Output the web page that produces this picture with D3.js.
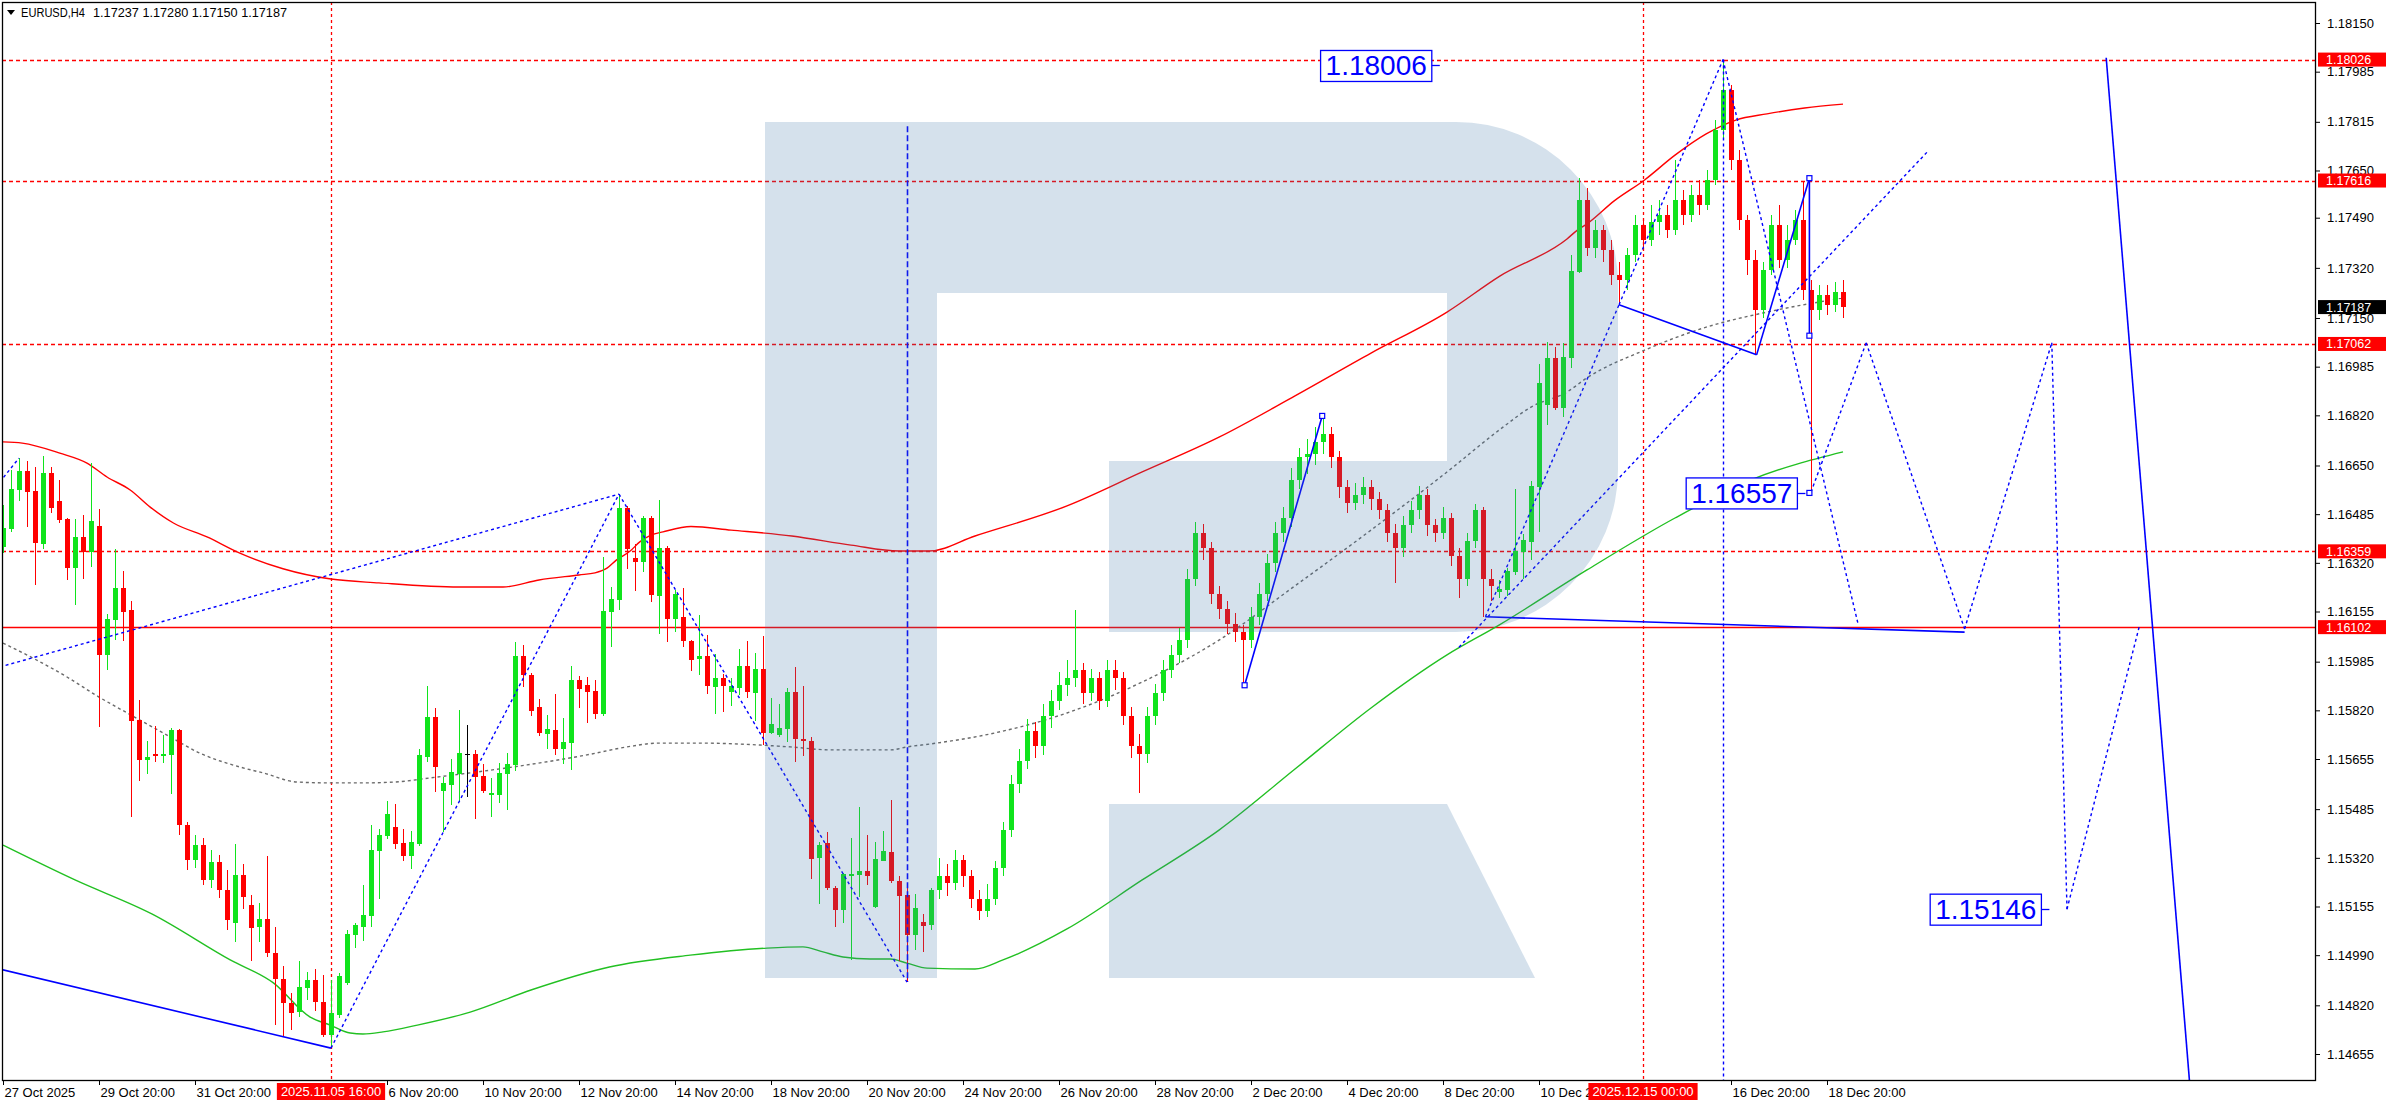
<!DOCTYPE html>
<html><head><meta charset="utf-8">
<script src="https://cdn.jsdelivr.net/npm/d3@7/dist/d3.min.js"></script>
<style>html,body{margin:0;padding:0;background:#fff;overflow:hidden}svg{display:block}</style>
</head><body>
<svg id="chart" width="2388" height="1100"></svg>
<script>
// ---------------- DATA (EURUSD H4, bar 0 = 27 Oct 2025 20:00) ----------------
const barOpen=[
1.16374,1.16435,1.16567,1.16631,1.16564,1.16384,1.16625,1.16530,1.16469,1.16302,
1.16408,1.16357,1.16445,1.16008,1.16126,1.16235,1.16160,1.15787,1.15652,1.15672,
1.15665,1.15669,1.15753,1.15431,1.15313,1.15363,1.15245,1.15306,1.15211,1.15099,
1.15262,1.15160,1.15085,1.15113,1.14997,1.14909,1.14828,1.14797,1.14879,1.14906,
1.14831,1.14719,1.14787,1.14896,1.15058,1.15085,1.15123,1.15343,1.15394,1.15424,
1.15370,1.15326,1.15367,1.15662,1.15797,1.15547,1.15567,1.15604,1.15672,1.15672,
1.15597,1.15533,1.15533,1.15604,1.15635,1.16004,1.15940,1.15831,1.15740,1.15753,
1.15689,1.15709,1.15923,1.15906,1.15886,1.15808,1.16153,1.16194,1.16506,1.16336,
1.16323,1.16472,1.16208,1.16370,1.16130,1.16136,1.16055,1.15994,1.16004,1.15899,
1.15930,1.15882,1.15896,1.15970,1.15879,1.15960,1.15743,1.15736,1.15757,1.15882,
1.15723,1.15716,1.15319,1.15370,1.15218,1.15143,1.15262,1.15262,1.15275,1.15153,
1.15309,1.15340,1.15241,1.15194,1.15058,1.15102,1.15092,1.15211,1.15259,1.15233,
1.15311,1.15259,1.15182,1.15140,1.15182,1.15285,1.15414,1.15569,1.15647,1.15750,
1.15698,1.15801,1.15853,1.15905,1.15930,1.15956,1.15879,1.15930,1.15853,1.15956,
1.15930,1.15801,1.15698,1.15672,1.15801,1.15879,1.15956,1.16008,1.16060,1.16266,
1.16421,1.16369,1.16214,1.16163,1.16111,1.16085,1.16060,1.16137,1.16214,1.16318,
1.16421,1.16473,1.16602,1.16679,1.16689,1.16731,1.16757,1.16679,1.16576,1.16524,
1.16550,1.16576,1.16535,1.16498,1.16421,1.16369,1.16447,1.16498,1.16550,1.16447,
1.16421,1.16473,1.16344,1.16266,1.16395,1.16498,1.16266,1.16221,1.16228,1.16289,
1.16357,1.16391,1.16577,1.16855,1.17014,1.16845,1.17014,1.17306,1.17550,1.17387,
1.17448,1.17380,1.17296,1.17279,1.17364,1.17465,1.17414,1.17475,1.17499,1.17448,
1.17550,1.17499,1.17567,1.17533,1.17618,1.17787,1.17923,1.17686,1.17482,1.17347,
1.17177,1.17313,1.17465,1.17347,1.17414,1.17482,1.17245,1.17177,1.17228,1.17194,1.17237];
const barHigh=[
1.16516,1.16635,1.16675,1.16665,1.16645,1.16682,1.16645,1.16601,1.16472,1.16469,
1.16482,1.16658,1.16502,1.16147,1.16367,1.16292,1.16191,1.15855,1.15716,1.15767,
1.15736,1.15760,1.15756,1.15440,1.15397,1.15387,1.15346,1.15330,1.15279,1.15367,
1.15299,1.15194,1.15167,1.15326,1.15085,1.14953,1.14862,1.14970,1.14933,1.14943,
1.14923,1.14906,1.14930,1.15075,1.15099,1.15228,1.15431,1.15418,1.15513,1.15502,
1.15418,1.15411,1.15689,1.15902,1.15828,1.15594,1.15655,1.15821,1.15770,1.15685,
1.15638,1.15591,1.15641,1.15675,1.16052,1.16041,1.15947,1.15858,1.15804,1.15875,
1.15794,1.15970,1.15936,1.15933,1.15923,1.16340,1.16238,1.16553,1.16513,1.16384,
1.16479,1.16479,1.16533,1.16377,1.16228,1.16235,1.16058,1.16143,1.16075,1.16011,
1.15943,1.15930,1.16028,1.16055,1.16014,1.16072,1.15862,1.15841,1.15896,1.15967,
1.15902,1.15730,1.15374,1.15408,1.15224,1.15268,1.15387,1.15492,1.15397,1.15374,
1.15411,1.15516,1.15258,1.15224,1.15197,1.15130,1.15218,1.15320,1.15300,1.15345,
1.15330,1.15280,1.15210,1.15230,1.15310,1.15440,1.15600,1.15690,1.15790,1.15780,
1.15840,1.15890,1.15950,1.15990,1.16160,1.15980,1.15960,1.15950,1.15990,1.15990,
1.15950,1.15830,1.15740,1.15830,1.15910,1.15990,1.16040,1.16100,1.16300,1.16460,
1.16450,1.16390,1.16240,1.16190,1.16150,1.16110,1.16170,1.16250,1.16350,1.16460,
1.16510,1.16640,1.16710,1.16740,1.16780,1.16818,1.16780,1.16700,1.16600,1.16590,
1.16610,1.16600,1.16560,1.16520,1.16450,1.16480,1.16530,1.16580,1.16570,1.16470,
1.16510,1.16490,1.16370,1.16420,1.16520,1.16510,1.16300,1.16262,1.16302,1.16570,
1.16418,1.16597,1.16994,1.17069,1.17052,1.17065,1.17364,1.17625,1.17591,1.17482,
1.17465,1.17414,1.17340,1.17387,1.17499,1.17489,1.17533,1.17550,1.17533,1.17686,
1.17584,1.17601,1.17618,1.17652,1.17821,1.18026,1.17940,1.17720,1.17499,1.17381,
1.17340,1.17499,1.17533,1.17465,1.17516,1.17616,1.17279,1.17262,1.17262,1.17272,1.17280];
const barLow=[
1.16353,1.16425,1.16530,1.16441,1.16245,1.16367,1.16489,1.16455,1.16262,1.16177,
1.16265,1.16306,1.15763,1.15957,1.16058,1.16055,1.15458,1.15580,1.15604,1.15645,
1.15641,1.15536,1.15397,1.15279,1.15285,1.15228,1.15218,1.15184,1.15075,1.15035,
1.15146,1.14970,1.15035,1.14984,1.14753,1.14716,1.14736,1.14780,1.14838,1.14801,
1.14713,1.14675,1.14777,1.14889,1.15014,1.15038,1.15085,1.15180,1.15384,1.15350,
1.15309,1.15282,1.15360,1.15645,1.15543,1.15408,1.15499,1.15509,1.15526,1.15452,
1.15540,1.15458,1.15506,1.15482,1.15614,1.15899,1.15801,1.15733,1.15689,1.15669,
1.15638,1.15618,1.15828,1.15777,1.15791,1.15801,1.16035,1.16160,1.16299,1.16225,
1.16289,1.16187,1.16079,1.16052,1.16086,1.16035,1.15953,1.15940,1.15875,1.15808,
1.15814,1.15835,1.15872,1.15862,1.15784,1.15702,1.15740,1.15730,1.15713,1.15645,
1.15665,1.15248,1.15163,1.15211,1.15085,1.15099,1.14974,1.15187,1.15228,1.15150,
1.15309,1.15235,1.14970,1.14899,1.15007,1.15001,1.15075,1.15180,1.15190,1.15210,
1.15220,1.15150,1.15110,1.15120,1.15160,1.15260,1.15390,1.15540,1.15620,1.15660,
1.15670,1.15760,1.15820,1.15870,1.15900,1.15840,1.15850,1.15820,1.15830,1.15890,
1.15770,1.15660,1.15540,1.15640,1.15770,1.15850,1.15930,1.15980,1.16030,1.16240,
1.16330,1.16180,1.16130,1.16080,1.16050,1.15905,1.16030,1.16110,1.16190,1.16290,
1.16390,1.16440,1.16570,1.16620,1.16650,1.16690,1.16640,1.16540,1.16490,1.16500,
1.16520,1.16500,1.16470,1.16390,1.16250,1.16340,1.16420,1.16470,1.16410,1.16390,
1.16400,1.16310,1.16200,1.16240,1.16370,1.16137,1.16190,1.16200,1.16208,1.16279,
1.16265,1.16330,1.16425,1.16787,1.16838,1.16814,1.16980,1.17303,1.17360,1.17353,
1.17340,1.17262,1.17194,1.17245,1.17340,1.17380,1.17394,1.17431,1.17421,1.17431,
1.17465,1.17475,1.17499,1.17516,1.17601,1.17753,1.17652,1.17448,1.17296,1.17025,
1.17150,1.17296,1.17320,1.17320,1.17397,1.17211,1.16557,1.17143,1.17160,1.17170,1.17150];
const barClose=[
1.16438,1.16570,1.16631,1.16560,1.16387,1.16625,1.16506,1.16465,1.16302,1.16408,
1.16357,1.16462,1.16008,1.16130,1.16235,1.16153,1.15784,1.15652,1.15662,1.15665,
1.15672,1.15753,1.15431,1.15313,1.15363,1.15245,1.15306,1.15211,1.15109,1.15262,
1.15187,1.15082,1.15113,1.14997,1.14909,1.14828,1.14794,1.14882,1.14906,1.14831,
1.14719,1.14794,1.14919,1.15062,1.15092,1.15126,1.15346,1.15397,1.15469,1.15367,
1.15326,1.15374,1.15669,1.15797,1.15628,1.15574,1.15611,1.15675,1.15672,1.15594,
1.15547,1.15540,1.15608,1.15638,1.16004,1.15940,1.15818,1.15743,1.15757,1.15689,
1.15713,1.15923,1.15892,1.15882,1.15808,1.16157,1.16197,1.16506,1.16367,1.16323,
1.16472,1.16211,1.16370,1.16130,1.16214,1.16055,1.15991,1.16004,1.15902,1.15930,
1.15902,1.15902,1.15970,1.15882,1.15960,1.15743,1.15774,1.15760,1.15882,1.15723,
1.15716,1.15316,1.15363,1.15218,1.15143,1.15265,1.15265,1.15275,1.15258,1.15316,
1.15343,1.15241,1.15191,1.15058,1.15150,1.15089,1.15211,1.15259,1.15233,1.15311,
1.15259,1.15182,1.15140,1.15182,1.15285,1.15414,1.15569,1.15647,1.15750,1.15698,
1.15801,1.15853,1.15905,1.15930,1.15956,1.15879,1.15930,1.15853,1.15956,1.15930,
1.15801,1.15698,1.15672,1.15801,1.15879,1.15956,1.16008,1.16060,1.16266,1.16421,
1.16369,1.16214,1.16163,1.16111,1.16085,1.16060,1.16137,1.16214,1.16318,1.16421,
1.16473,1.16602,1.16679,1.16689,1.16731,1.16757,1.16679,1.16576,1.16524,1.16550,
1.16576,1.16535,1.16498,1.16421,1.16369,1.16447,1.16498,1.16550,1.16447,1.16421,
1.16473,1.16344,1.16266,1.16395,1.16498,1.16266,1.16240,1.16231,1.16292,1.16360,
1.16397,1.16580,1.16930,1.17014,1.16845,1.17018,1.17309,1.17550,1.17387,1.17448,
1.17380,1.17296,1.17279,1.17364,1.17465,1.17414,1.17475,1.17499,1.17448,1.17550,
1.17499,1.17567,1.17533,1.17618,1.17787,1.17923,1.17686,1.17482,1.17347,1.17177,
1.17313,1.17465,1.17347,1.17414,1.17482,1.17245,1.17177,1.17228,1.17194,1.17237,1.17187];

const priceTicks=[1.18150,1.17985,1.17815,1.17650,1.17490,1.17320,1.17150,1.16985,1.16820,1.16650,1.16485,
  1.16320,1.16155,1.15985,1.15820,1.15655,1.15485,1.15320,1.15155,1.14990,1.14820,1.14655];
const timeTickIdx=[0,12,24,48,60,72,84,96,108,120,132,144,156,168,180,192,216,228];
const timeTickLabels=['27 Oct 2025','29 Oct 20:00','31 Oct 20:00','6 Nov 20:00','10 Nov 20:00',
  '12 Nov 20:00','14 Nov 20:00','18 Nov 20:00','20 Nov 20:00','24 Nov 20:00','26 Nov 20:00','28 Nov 20:00',
  '2 Dec 20:00','4 Dec 20:00','8 Dec 20:00','10 Dec 20:00','16 Dec 20:00','18 Dec 20:00'];
const markerIdx=[41,205];
const markerLabels=['2025.11.05 16:00','2025.12.15 00:00'];
const dashedLevels=[1.18026,1.17616,1.17062,1.16359];
const solidLevels=[1.16102];
const currentPrice=1.17187;
const headerSymbol='EURUSD,H4';
const headerValues='1.17237 1.17280 1.17150 1.17187';

// moving averages: [bar index, price]
const maRed=[[0,1.16730],[2.4,1.16726],[7.1,1.16692],[10.5,1.16658],[13,1.16611],[15.9,1.16567],[18.4,1.16509],
 [21.3,1.16455],[25.5,1.16408],[29.6,1.16353],[35,1.16300],[41,1.16265],[47,1.16252],[57,1.16238],[62.5,1.16238],
 [67,1.16262],[72,1.16279],[74,1.16286],[75.5,1.16302],[76.7,1.16330],[78.4,1.16360],[79.6,1.16391],[81,1.16414],
 [82.5,1.16425],[86,1.16443],[91,1.16431],[98.6,1.16411],[106,1.16380],[112,1.16360],[115.8,1.16360],[121.5,1.16411],
 [133,1.16513],[142.4,1.16628],[152,1.16746],[161.5,1.16886],[171,1.17031],[180.5,1.17170],[187.1,1.17292],
 [195.5,1.17418],[196.8,1.17448],[198,1.17469],[201.4,1.17547],[205.2,1.17618],[209,1.17702],[212.9,1.17774],
 [216.6,1.17821],[220.5,1.17842],[225.2,1.17862],[230,1.17875]];
const maGreen=[[0,1.15363],[9,1.15245],[18.6,1.15130],[28.4,1.14974],[33.8,1.14896],[38.4,1.14780],[40.9,1.14753],
 [43.4,1.14726],[45,1.14723],[47.5,1.14730],[51.8,1.14753],[58.4,1.14797],[66,1.14872],[75.8,1.14950],[85.9,1.14990],
 [95.5,1.15014],[100,1.15018],[102.5,1.15001],[105,1.14984],[108.4,1.14977],[110.9,1.14977],[113,1.14963],
 [115.5,1.14946],[121.5,1.14943],[125,1.14974],[133,1.15079],[142.4,1.15245],[152,1.15414],[161.5,1.15621],
 [171,1.15828],[180.5,1.16008],[187,1.16109],[198,1.16296],[209,1.16472],[218.5,1.16601],[230,1.16696]];
const maGray=[[0,1.16048],[3.75,1.15997],[8,1.15933],[12,1.15865],[16,1.15804],[20.5,1.15736],[24.6,1.15675],
 [29.6,1.15628],[32.5,1.15608],[36.75,1.15577],[40.9,1.15574],[45,1.15574],[49,1.15577],[53.4,1.15591],
 [58.4,1.15608],[65.5,1.15635],[73,1.15669],[78,1.15696],[82,1.15709],[87,1.15709],[98.4,1.15696],[103.4,1.15686],
 [111,1.15686],[113,1.15696],[115.9,1.15706],[123.4,1.15740],[133,1.15811],[142.4,1.15916],[152,1.16058],
 [161.5,1.16242],[171,1.16431],[180.5,1.16628],[187.5,1.16780],[191,1.16848],[195.5,1.16899],[198,1.16947],
 [205.2,1.17041],[212.9,1.17119],[220.5,1.17170],[230,1.17218]];

// analyst drawings: [[bar, price],[bar, price]]
const solidTrend=[
 [[-0.4,1.14943],[41,1.14675]],
 [[155.2,1.15905],[164.9,1.16818]],
 [[185.3,1.16137],[245.2,1.16085]],
 [[202,1.17195],[219.2,1.17025]],
 [[219.2,1.17025],[225.8,1.17624]],
 [[225.8,1.17624],[225.8,1.17090]],
 [[262.9,1.18032],[273.5,1.14500]]];
const dottedTrend=[
 [[-0.4,1.16594],[2,1.16675]],
 [[-0.4,1.15967],[77,1.16553]],
 [[41,1.14675],[77,1.16553]],
 [[77,1.16553],[113,1.14899]],
 [[185.3,1.16137],[202,1.17195]],
 [[202,1.17195],[215,1.18026]],
 [[182,1.16034],[240.5,1.17712]],
 [[215,1.18026],[231.9,1.16111]],
 [[226,1.16560],[232.9,1.17066]],
 [[232.9,1.17066],[245.2,1.16096]],
 [[245.2,1.16096],[256.1,1.17066]],
 [[256.1,1.17066],[258,1.15146]],
 [[258,1.15146],[267.1,1.16111]]];
const blueDottedVertical=[[215,1.18026]];
const blueDashedVertical=[[113,1.17800,1.14899]];
const anchorPoints=[[155.2,1.15905],[164.9,1.16818],[225.8,1.17624],[225.8,1.17090],[225.8,1.16557]];
const priceNotes=[
 {text:'1.18006',i:178.6,p:1.18006},
 {text:'1.16557',i:224.3,p:1.16557},
 {text:'1.15146',i:254.8,p:1.15146}];

// ---------------- DRAWING ----------------
const W=2388,H=1100, PL=2, PT=2, PR=2315, PB=1080;
const svg=d3.select('#chart');
const x=d3.scaleLinear().domain([0,289]).range([3,2315]);
const y=d3.scaleLinear().domain([1.14655,1.18150]).range([1054,23]);
const FONT='"Liberation Sans", Arial, sans-serif';
const UP='#10e41c', DN='#ff0000';

svg.append('rect').attr('width',W).attr('height',H).attr('fill','#fff');
const defs=svg.append('defs');
defs.append('clipPath').attr('id','plot')
  .append('rect').attr('x',PL).attr('y',PT).attr('width',PR-PL).attr('height',PB-PT);
const g=svg.append('g').attr('clip-path','url(#plot)');
const px=v=>Math.round(v)+0.5;

// horizontal levels
g.selectAll('line.lvl').data(dashedLevels).join('line')
  .attr('x1',PL).attr('x2',PR).attr('y1',d=>px(y(d))).attr('y2',d=>px(y(d)))
  .attr('stroke','#ff0000').attr('stroke-width',1.3).attr('stroke-dasharray','4,3');
g.selectAll('line.slvl').data(solidLevels).join('line')
  .attr('x1',PL).attr('x2',PR).attr('y1',d=>px(y(d))).attr('y2',d=>px(y(d)))
  .attr('stroke','#ff0000').attr('stroke-width',1.6);
// vertical time markers
g.selectAll('line.vm').data(markerIdx).join('line')
  .attr('x1',d=>px(x(d))).attr('x2',d=>px(x(d))).attr('y1',PT).attr('y2',PB)
  .attr('stroke','#ff0000').attr('stroke-width',1.3).attr('stroke-dasharray','3,3');

// moving averages
const maLine=d3.line().x(d=>x(d[0])).y(d=>y(d[1])).curve(d3.curveMonotoneX);
g.append('path').attr('d',maLine(maGray)).attr('fill','none').attr('stroke','#6a6a6a').attr('stroke-width',1.4).attr('stroke-dasharray','3,3');
g.append('path').attr('d',maLine(maRed)).attr('fill','none').attr('stroke','#ff0000').attr('stroke-width',1.4);
g.append('path').attr('d',maLine(maGreen)).attr('fill','none').attr('stroke','#22c022').attr('stroke-width',1.4);

// candles
const idx=d3.range(barOpen.length);
const col=i=>barClose[i]>barOpen[i]?UP:(barClose[i]<barOpen[i]?DN:'#000');
const cg=g.append('g').attr('shape-rendering','crispEdges');
cg.selectAll('line.w').data(idx).join('line')
  .attr('x1',i=>Math.round(x(i))+0.5).attr('x2',i=>Math.round(x(i))+0.5)
  .attr('y1',i=>y(barHigh[i])).attr('y2',i=>y(barLow[i]))
  .attr('stroke',col).attr('stroke-width',1.3);
cg.selectAll('rect.b').data(idx).join('rect')
  .attr('x',i=>Math.round(x(i))-2).attr('width',5)
  .attr('y',i=>y(Math.max(barOpen[i],barClose[i])))
  .attr('height',i=>Math.max(1.5,Math.abs(y(barOpen[i])-y(barClose[i]))))
  .attr('fill',col);

// analyst lines
const seg=d3.line().x(d=>x(d[0])).y(d=>y(d[1]));
g.selectAll('path.st').data(solidTrend).join('path').attr('d',seg)
  .attr('fill','none').attr('stroke','#0000ff').attr('stroke-width',1.6);
g.selectAll('path.dt').data(dottedTrend).join('path').attr('d',seg)
  .attr('fill','none').attr('stroke','#0000ff').attr('stroke-width',1.4).attr('stroke-dasharray','3,3');
g.selectAll('line.bdv').data(blueDottedVertical).join('line')
  .attr('x1',d=>px(x(d[0]))).attr('x2',d=>px(x(d[0]))).attr('y1',d=>y(d[1])).attr('y2',PB)
  .attr('stroke','#0000ff').attr('stroke-width',1.4).attr('stroke-dasharray','3,3');
g.selectAll('line.bdd').data(blueDashedVertical).join('line')
  .attr('x1',d=>px(x(d[0]))).attr('x2',d=>px(x(d[0]))).attr('y1',d=>y(d[1])).attr('y2',d=>y(d[2]))
  .attr('stroke','#0000ff').attr('stroke-width',1.6).attr('stroke-dasharray','6,3');
g.selectAll('rect.ap').data(anchorPoints).join('rect')
  .attr('x',d=>x(d[0])-2.5).attr('y',d=>y(d[1])-2.5).attr('width',5).attr('height',5)
  .attr('fill','#fff').attr('stroke','#0000ff').attr('stroke-width',1.2);

// watermark logo (semi-transparent, drawn over the series)
const logo=g.append('g').attr('fill','rgb(64,118,170)').attr('fill-opacity',0.22);
logo.append('path').attr('d','M765,122 H1456 A162,162 0 0 1 1618,284 V470 A162,162 0 0 1 1456,632 H1109 V461 H1447 V293 H937 V978 H765 Z');
logo.append('path').attr('d','M1109,804 H1447 L1535,978 H1109 Z');

// price notes (boxed text)
priceNotes.forEach(n=>{
  const box=svg.append('rect');
  const t=svg.append('text').attr('font-family',FONT).attr('font-size',28).attr('fill','#0000ff')
    .attr('text-anchor','end').attr('x',x(n.i)-5).attr('y',y(n.p)+10).text(n.text);
  const bb=t.node().getBBox();
  box.attr('x',bb.x-5).attr('y',y(n.p)-15).attr('width',bb.width+10).attr('height',31)
    .attr('fill','#fff').attr('stroke','#0000ff').attr('stroke-width',1.3);
  svg.append('line').attr('x1',x(n.i)).attr('x2',x(n.i)+8).attr('y1',px(y(n.p))).attr('y2',px(y(n.p)))
    .attr('stroke','#0000ff').attr('stroke-width',1.3);
});

// frame
svg.append('rect').attr('x',PL+0.5).attr('y',PT+0.5).attr('width',PR-PL).attr('height',PB-PT)
  .attr('fill','none').attr('stroke','#000').attr('stroke-width',1.3);

// right price axis
const ya=svg.append('g').attr('transform',`translate(${PR},0)`)
  .call(d3.axisRight(y).tickValues(priceTicks).tickFormat(d3.format('.5f')).tickSize(5).tickPadding(7));
ya.select('.domain').remove();
ya.selectAll('text').attr('font-family',FONT).attr('font-size',13).attr('fill','#000');
ya.selectAll('line').attr('stroke','#000');

// axis price tags
const tag=(p,bg)=>{
  const yy=y(p);
  svg.append('rect').attr('x',PR+3).attr('y',yy-7).attr('width',68).attr('height',14).attr('fill',bg);
  svg.append('text').attr('x',PR+11).attr('y',yy+4.5).attr('font-family',FONT).attr('font-size',12.5)
    .attr('fill','#fff').text(d3.format('.5f')(p));
};
dashedLevels.concat(solidLevels).forEach(p=>tag(p,'#ff0000'));
tag(currentPrice,'#000');

// bottom time axis (label under the red date box is clipped where the box starts)
defs.append('clipPath').attr('id','xlab').append('rect').attr('x',0).attr('y',PB).attr('width',x(markerIdx[1])-55).attr('height',30);
const xa=svg.append('g').attr('transform',`translate(0,${PB})`)
  .call(d3.axisBottom(x).tickValues(timeTickIdx).tickFormat((d,k)=>timeTickLabels[k]).tickSize(5).tickPadding(3));
xa.select('.domain').remove();
xa.selectAll('text').attr('font-family',FONT).attr('font-size',13).attr('fill','#000')
  .attr('text-anchor','start').attr('x',1);
xa.selectAll('line').attr('stroke','#000');
markerIdx.forEach((m,k)=>{
  const cx=x(m);
  const box=svg.append('rect');
  const t=svg.append('text').attr('x',cx).attr('y',PB+16).attr('text-anchor','middle')
    .attr('font-family',FONT).attr('font-size',13).attr('fill','#fff').text(markerLabels[k]);
  const bb=t.node().getBBox();
  box.attr('x',bb.x-4).attr('y',PB+3).attr('width',bb.width+8).attr('height',17).attr('fill','#ff0000');
});

// header
svg.append('path').attr('d','M7,10 L15,10 L11,15 Z').attr('fill','#000');
svg.append('text').attr('x',21).attr('y',17).attr('font-family',FONT).attr('font-size',12.5).attr('fill','#000')
  .attr('textLength',64).attr('lengthAdjust','spacingAndGlyphs').text(headerSymbol);
svg.append('text').attr('x',93).attr('y',17).attr('font-family',FONT).attr('font-size',12.5).attr('fill','#000')
  .attr('textLength',194).attr('lengthAdjust','spacingAndGlyphs').text(headerValues);
</script>
</body></html>
